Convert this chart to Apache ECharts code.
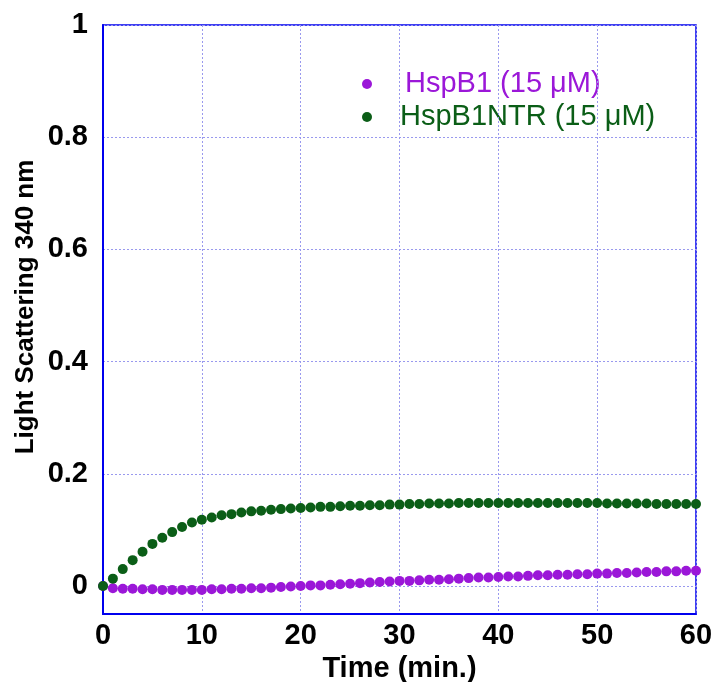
<!DOCTYPE html>
<html>
<head>
<meta charset="utf-8">
<script src="https://cdn.jsdelivr.net/npm/echarts@6/dist/echarts.min.js"></script>
<style>html,body{margin:0;padding:0;background:#fff}#c{width:713px;height:682px}</style>
</head>
<body>
<div id="c"></div>
<script>
var times = [];
for (var i = 0; i <= 60; i++) times.push(i);
var hspB1 = [0, -0.004, -0.005, -0.005, -0.006, -0.006, -0.007, -0.007, -0.007, -0.007, -0.007,
  -0.006, -0.006, -0.005, -0.005, -0.004, -0.004, -0.003, -0.002, -0.001, 0.000,
  0.001, 0.001, 0.002, 0.003, 0.004, 0.005, 0.006, 0.007, 0.008, 0.009,
  0.009, 0.010, 0.011, 0.011, 0.012, 0.013, 0.014, 0.015, 0.015, 0.016,
  0.017, 0.017, 0.018, 0.019, 0.019, 0.020, 0.020, 0.021, 0.021, 0.022,
  0.022, 0.023, 0.023, 0.024, 0.025, 0.025, 0.026, 0.026, 0.027, 0.027];
var hspB1NTR = [0, 0.013, 0.030, 0.046, 0.061, 0.075, 0.086, 0.096, 0.105, 0.113, 0.118,
  0.122, 0.126, 0.128, 0.131, 0.133, 0.134, 0.136, 0.137, 0.138, 0.139,
  0.140, 0.141, 0.141, 0.142, 0.143, 0.143, 0.144, 0.144, 0.145, 0.145,
  0.146, 0.146, 0.147, 0.147, 0.147, 0.148, 0.148, 0.148, 0.148, 0.148,
  0.148, 0.148, 0.148, 0.148, 0.148, 0.148, 0.148, 0.148, 0.148, 0.148,
  0.147, 0.147, 0.147, 0.147, 0.147, 0.146, 0.146, 0.146, 0.146, 0.146];
var yTicks = [0, 0.2, 0.4, 0.6, 0.8, 1];
var seriesNames = ['HspB1 (15 \u03bcM)', 'HspB1NTR (15 \u03bcM)'];
var colors = ['#9b17d8', '#0b5e17'];

function pairs(ys) { return times.map(function (t, i) { return [t, ys[i]]; }); }

var chart = echarts.init(document.getElementById('c'));
var fontFam = '"Liberation Sans", Arial, Helvetica, sans-serif';
chart.setOption({
  animation: false,
  grid: { left: 103, right: 17, top: 25, bottom: 68, outerBoundsMode: 'none', containLabel: false,
    show: true, borderColor: '#0000ee', borderWidth: 1.5 },
  xAxis: {
    type: 'value', min: 0, max: 60, interval: 10,
    name: 'Time (min.)', nameLocation: 'middle', nameGap: 33,
    nameTextStyle: { fontFamily: fontFam, fontWeight: 'bold', fontSize: 29, color: '#000' },
    axisLine: { show: true, onZero: false, lineStyle: { color: '#0000ee', width: 2 } },
    axisTick: { show: false },
    axisLabel: { fontFamily: fontFam, fontWeight: 'bold', fontSize: 29, color: '#000', margin: 7 },
    splitLine: { show: true, lineStyle: { color: '#9999ee', type: [2, 2], width: 1 } }
  },
  yAxis: {
    type: 'value', min: -0.05, max: 1,
    axisLine: { show: true, onZero: false, lineStyle: { color: '#0000ee', width: 2 } },
    axisTick: { show: false, customValues: yTicks },
    axisLabel: { fontFamily: fontFam, fontWeight: 'bold', fontSize: 29, color: '#000', margin: 15, customValues: yTicks },
    splitLine: { show: true, lineStyle: { color: '#9999ee', type: [2, 2], width: 1 } }
  },
  graphic: [
    { type: 'text', x: 26, y: 307, rotation: Math.PI / 2,
      style: { text: 'Light Scattering 340 nm', fill: '#000', font: 'bold 26px ' + fontFam, align: 'center', verticalAlign: 'middle' } },
    { type: 'circle', shape: { cx: 367, cy: 84, r: 5 }, style: { fill: colors[0] } },
    { type: 'text', x: 405, y: 84, style: { text: seriesNames[0], fill: colors[0], font: '29px ' + fontFam, verticalAlign: 'middle' } },
    { type: 'circle', shape: { cx: 367, cy: 117, r: 5 }, style: { fill: colors[1] } },
    { type: 'text', x: 400, y: 117, style: { text: seriesNames[1], fill: colors[1], font: '29px ' + fontFam, verticalAlign: 'middle' } }
  ],
  series: [
    { name: seriesNames[0], type: 'scatter', data: pairs(hspB1), symbol: 'circle', symbolSize: 10, itemStyle: { color: colors[0], opacity: 1 } },
    { name: seriesNames[1], type: 'scatter', data: pairs(hspB1NTR), symbol: 'circle', symbolSize: 10, itemStyle: { color: colors[1], opacity: 1 } }
  ]
});
</script>
</body>
</html>
